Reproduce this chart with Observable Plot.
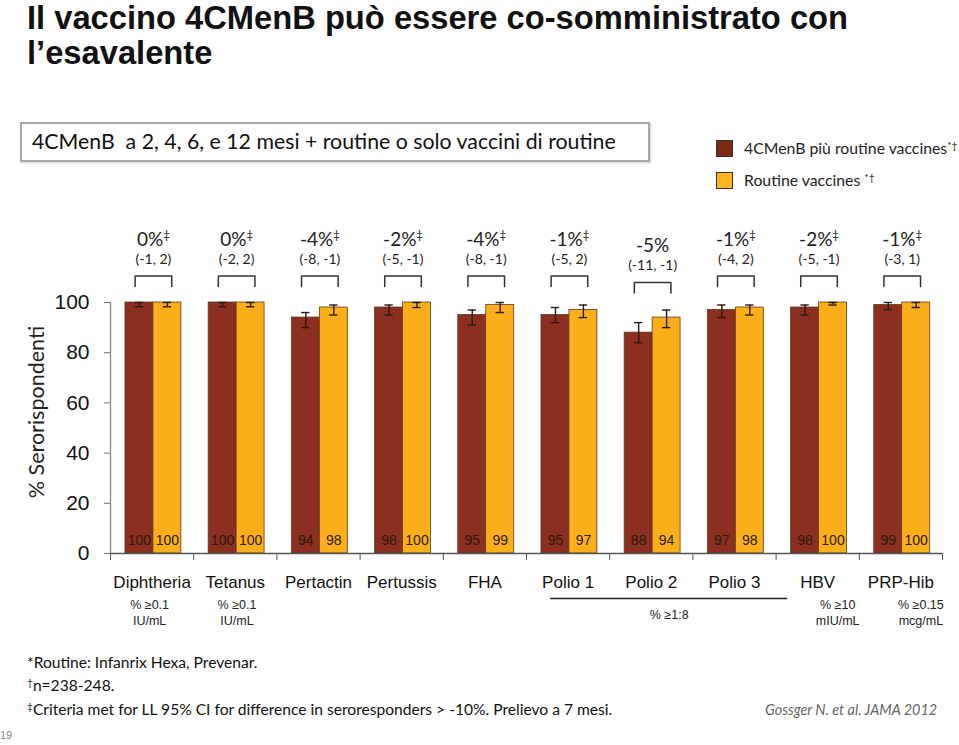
<!DOCTYPE html>
<html>
<head>
<meta charset="utf-8">
<script src="https://cdn.jsdelivr.net/npm/d3@7"></script>
<script src="https://cdn.jsdelivr.net/npm/@observablehq/plot@0.6"></script>
<style>
  html, body { margin: 0; padding: 0; background: #fff; }
  #page { position: relative; width: 959px; height: 745px; overflow: hidden; background: #fff; }
  #chart { position: absolute; left: 0; top: 0; }
  .abs { position: absolute; white-space: nowrap; }
  .title { left: 27px; top: 0px; font: bold 32.7px "Liberation Sans", Arial, sans-serif; line-height: 35px; color: #111; }
  .box { left: 20px; top: 122px; width: 626px; height: 36px; border: 2px solid #a8a8a8; box-shadow: 1px 1px 2px #ccc; }
  .box span { position: absolute; left: 10px; top: 4px; font: 21.3px Lato, sans-serif; color: #111; }
  .leg { left: 716px; font: 15.8px Lato, sans-serif; color: #222; }
  .sw { position: absolute; left: 716px; width: 17px; height: 17px; border: 1px solid #333; box-sizing: border-box; }
  sup { font-size: 65%; vertical-align: 0.5em; line-height: 0; }
  .foot { left: 27px; font: 15.6px Lato, sans-serif; color: #111; }
  .cite { left: 765px; top: 701px; font: italic 14.4px Lato, sans-serif; color: #666; }
  .pg { left: 0px; top: 729px; font: 11px "Liberation Sans", Arial, sans-serif; color: #888; }
</style>
</head>
<body>
<div id="page">
  <div id="chart"></div>
  <div class="abs title">Il vaccino 4CMenB può essere co-somministrato con<br>l’esavalente</div>
  <div class="abs box"><span>4CMenB&nbsp; a 2, 4, 6, e 12 mesi + routine o solo vaccini di routine</span></div>
  <div class="sw" style="top:140px;background:#7c2814"></div>
  <div class="abs leg" style="left:744px;top:138px">4CMenB più routine vaccines<sup>*†</sup></div>
  <div class="sw" style="top:172px;background:#fdb21e"></div>
  <div class="abs leg" style="left:744px;top:170px">Routine vaccines <sup>*†</sup></div>
  <div class="abs foot" style="top:653px">*Routine: Infanrix Hexa, Prevenar.</div>
  <div class="abs foot" style="top:676px"><sup>†</sup>n=238-248.</div>
  <div class="abs foot" style="top:700px"><sup>‡</sup>Criteria met for LL 95% CI for difference in seroresponders &gt; -10%. Prelievo a 7 mesi.</div>
  <div class="abs cite">Gossger N. et al. JAMA 2012</div>
  <div class="abs pg">19</div>
</div>
<script>
// ---- data ----
const categories = ["Diphtheria", "Tetanus", "Pertactin", "Pertussis", "FHA", "Polio 1", "Polio 2", "Polio 3", "HBV", "PRP-Hib"];
const seriesNames = ["4CMenB più routine vaccines", "Routine vaccines"];
const menbValues    = [100, 100, 94, 98, 95, 95, 88, 97, 98, 99];
const routineValues = [100, 100, 98, 100, 99, 97, 94, 98, 100, 100];
const menbLow     = [98.3, 98.3, 90, 95, 91, 92, 84, 94, 95, 97.2];
const menbHigh    = [100, 100, 96, 99, 97, 98, 92, 99, 99, 100];
const routineLow  = [98.3, 98.3, 95, 98, 96, 94, 90, 95, 99, 98];
const routineHigh = [100, 100, 99, 100, 100, 99, 97, 99, 100, 100];
const diffLabels = ["0%", "0%", "-4%", "-2%", "-4%", "-1%", "-5%", "-1%", "-2%", "-1%"];
const diffCriteriaMet = [true, true, true, true, true, true, false, true, true, true];
const diffCI = ["(-1, 2)", "(-2, 2)", "(-8, -1)", "(-5, -1)", "(-8, -1)", "(-5, 2)", "(-11, -1)", "(-4, 2)", "(-5, -1)", "(-3, 1)"];
const yTicks = [0, 20, 40, 60, 80, 100];
const unitCategories = ["Diphtheria", "Tetanus", "HBV", "PRP-Hib"];
const unitTexts = ["% ≥0.1\nIU/mL", "% ≥0.1\nIU/mL", "% ≥10\nmIU/mL", "% ≥0.15\nmcg/mL"];
const polioGroup = ["Polio 1", "Polio 2", "Polio 3"];
const polioUnit = "% ≥1:8";

// ---- derived tables ----
const bars = categories.flatMap((cat, i) => [
  {cat, i, s: 0, series: seriesNames[0], value: menbValues[i], lo: menbLow[i], hi: menbHigh[i]},
  {cat, i, s: 1, series: seriesNames[1], value: routineValues[i], lo: routineLow[i], hi: routineHigh[i]}
]);
const diffs = categories.map((cat, i) => ({cat, i, label: diffLabels[i] + (diffCriteriaMet[i] ? "‡" : ""), ci: diffCI[i], met: diffCriteriaMet[i]}));
const diffsMet = diffs.filter(d => d.met);
const diffsNotMet = diffs.filter(d => !d.met);
const units = unitCategories.map((cat, k) => ({cat, i: categories.indexOf(cat), text: unitTexts[k]}));

// ---- layout constants ----
const barStart = 0.18, barW = 0.336;
const bx1 = d => d.i + barStart + d.s * barW;
const bx2 = d => bx1(d) + barW;
const bxc = d => bx1(d) + barW / 2;
const groupC = d => d.i + barStart + barW;
const unitShift = {"Diphtheria": -0.03, "Tetanus": 0.02, "HBV": 0.24, "PRP-Hib": 0.24};
const brHalf = 0.22;
const brTop = d => 110.6 - (d.met ? 0 : 2.6);
const brBot = d => 106.4 - (d.met ? 0 : 2.6);
const brackets = diffs.flatMap(d => [
  {cat: d.cat, x: groupC(d) - brHalf, y: brBot(d)},
  {cat: d.cat, x: groupC(d) - brHalf, y: brTop(d)},
  {cat: d.cat, x: groupC(d) + brHalf, y: brTop(d)},
  {cat: d.cat, x: groupC(d) + brHalf, y: brBot(d)}
]);
const p1 = categories.indexOf(polioGroup[0]), p3 = categories.indexOf(polioGroup[2]);

const arial = "'Liberation Sans', Arial, sans-serif";
const calibri = "Lato, sans-serif";

const plot = Plot.plot({
  width: 959,
  height: 745,
  marginTop: 302,
  marginBottom: 192,
  marginLeft: 110,
  marginRight: 17,
  style: {fontFamily: arial, background: "transparent", overflow: "visible"},
  x: {domain: [0, categories.length], axis: null},
  y: {domain: [0, 100], axis: null},
  color: {domain: seriesNames, range: ["#8c2e20", "#fcaf19"]},
  marks: [
    Plot.axisY({ticks: yTicks, tickSize: 6, tickPadding: 15, fontSize: 21, stroke: "#777", fill: "#111", label: null}),
    Plot.axisX({ticks: d3.range(0, categories.length + 1), tickFormat: () => "", tickSize: 7, stroke: "#555", label: null}),
    Plot.rectY(bars, {x1: bx1, x2: bx2, y1: 0, y2: "value", fill: "series", stroke: "#5e3a1c", strokeWidth: 0.8}),
    Plot.ruleX([0], {y1: 0, y2: 100, stroke: "#888", strokeWidth: 1.3}),
    Plot.ruleY([0], {x1: 0, x2: categories.length, stroke: "#555", strokeWidth: 1.3}),
    Plot.ruleX(bars, {x: bxc, y1: "lo", y2: "hi", stroke: "#2a1a12", strokeWidth: 1.4}),
    Plot.ruleY(bars, {y: "lo", x1: d => bxc(d) - 0.05, x2: d => bxc(d) + 0.05, stroke: "#2a1a12", strokeWidth: 1.4}),
    Plot.ruleY(bars, {y: "hi", x1: d => bxc(d) - 0.05, x2: d => bxc(d) + 0.05, stroke: "#2a1a12", strokeWidth: 1.4}),
    Plot.text(bars, {x: bxc, y: 0, dy: -13, text: d => String(d.value), fontSize: 14, fill: "#2b1a10"}),
    Plot.text(categories, {x: (d, i) => i + 0.5, y: 0, dy: 29, text: d => d, fontSize: 17, fill: "#111"}),
    Plot.text(units, {x: d => d.i + 0.5 + unitShift[d.cat], y: 0, dy: 58, text: "text", fontSize: 12.5, lineHeight: 1.3, fill: "#222"}),
    Plot.ruleY([0], {x1: p1 + 0.29, x2: p3 + 1.14, dy: 45, stroke: "#222", strokeWidth: 1.5}),
    Plot.text([polioUnit], {x: (p1 + 0.29 + p3 + 1.14) / 2, y: 0, dy: 61, text: d => d, fontSize: 12.5, fill: "#222"}),
    Plot.line(brackets, {x: "x", y: "y", z: "cat", stroke: "#333", strokeWidth: 1.5}),
    Plot.text(diffsMet, {x: groupC, y: 100, dy: -63, text: "label", fontSize: 19, fontFamily: calibri, fill: "#222"}),
    Plot.text(diffsMet, {x: groupC, y: 100, dy: -43, text: "ci", fontSize: 14, fontFamily: calibri, fill: "#222"}),
    Plot.text(diffsNotMet, {x: groupC, y: 100, dy: -57, text: "label", fontSize: 19, fontFamily: calibri, fill: "#222"}),
    Plot.text(diffsNotMet, {x: groupC, y: 100, dy: -37, text: "ci", fontSize: 14, fontFamily: calibri, fill: "#222"}),
    Plot.text(["% Serorispondenti"], {frameAnchor: "left", textAnchor: "middle", dx: -73, dy: -16, rotate: -90, text: d => d, fontSize: 21.5, fontFamily: calibri, fill: "#222"})
  ]
});
document.getElementById("chart").appendChild(plot);

// superscript ‡ in the difference labels
d3.select(plot).selectAll("text").each(function() {
  const t = this.textContent;
  if (t.endsWith("‡") && t.length <= 5) {
    this.textContent = t.slice(0, -1);
    d3.select(this).append("tspan").attr("font-size", "0.6em").attr("dy", "-0.55em").text("‡");
  }
});
</script>
</body>
</html>
